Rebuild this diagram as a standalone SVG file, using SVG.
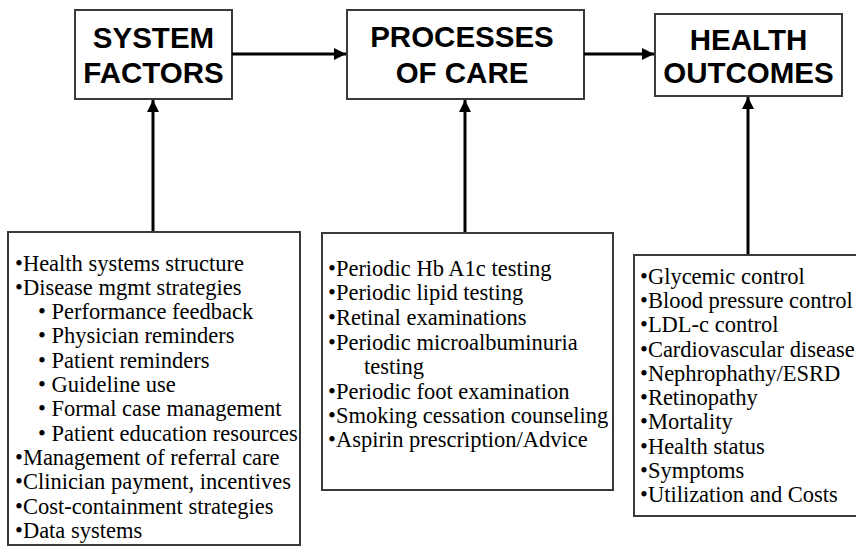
<svg xmlns="http://www.w3.org/2000/svg" width="856" height="547" viewBox="0 0 856 547">
<style>
.box{fill:#fff;stroke:#3a3a3a;stroke-width:2}
.title{font-family:"Liberation Sans",Arial,sans-serif;font-weight:bold;font-size:29.5px;fill:#000;text-anchor:middle}
.item{font-family:"Liberation Serif","Times New Roman",serif;font-size:22.5px;fill:#000}
.conn{stroke:#000;stroke-width:3;fill:none}
</style>
<defs>
<marker id="ah" viewBox="0 0 10 10" refX="10" refY="5" markerWidth="4" markerHeight="4" orient="auto" markerUnits="strokeWidth">
<path d="M0,0 L10,5 L0,10 z" fill="#000"/>
</marker>
</defs>
<rect width="856" height="547" fill="#fff"/>
<g id="system-factors">
<rect class="box" x="75" y="10" width="157" height="89"/>
<text class="title" x="153.5" y="48">SYSTEM</text>
<text class="title" x="153.5" y="83">FACTORS</text>
</g>
<g id="processes-of-care">
<rect class="box" x="347" y="10" width="237" height="89"/>
<text class="title" x="462" y="47">PROCESSES</text>
<text class="title" x="462" y="83">OF CARE</text>
</g>
<g id="health-outcomes">
<rect class="box" x="655" y="14" width="187" height="82"/>
<text class="title" x="748.5" y="50">HEALTH</text>
<text class="title" x="748.5" y="83">OUTCOMES</text>
</g>
<g id="system-factors-list">
<rect class="box" x="8" y="232" width="292" height="313"/>
<text class="item" x="15" y="271">•Health systems structure</text>
<text class="item" x="15" y="295">•Disease mgmt strategies</text>
<text class="item" x="38" y="319">• Performance feedback</text>
<text class="item" x="38" y="343">• Physician reminders</text>
<text class="item" x="38" y="368">• Patient reminders</text>
<text class="item" x="38" y="392">• Guideline use</text>
<text class="item" x="38" y="416">• Formal case management</text>
<text class="item" x="38" y="441">• Patient education resources</text>
<text class="item" x="15" y="465">•Management of referral care</text>
<text class="item" x="15" y="489">•Clinician payment, incentives</text>
<text class="item" x="15" y="514">•Cost-containment strategies</text>
<text class="item" x="15" y="538">•Data systems</text>
</g>
<g id="processes-list">
<rect class="box" x="322" y="233" width="291" height="257"/>
<text class="item" x="328" y="276">•Periodic Hb A1c testing</text>
<text class="item" x="328" y="300">•Periodic lipid testing</text>
<text class="item" x="328" y="325">•Retinal examinations</text>
<text class="item" x="328" y="350">•Periodic microalbuminuria</text>
<text class="item" x="364" y="374">testing</text>
<text class="item" x="328" y="399">•Periodic foot examination</text>
<text class="item" x="328" y="423">•Smoking cessation counseling</text>
<text class="item" x="328" y="447">•Aspirin prescription/Advice</text>
</g>
<g id="outcomes-list">
<rect class="box" x="634" y="255" width="240" height="261"/>
<text class="item" x="640" y="284">•Glycemic control</text>
<text class="item" x="640" y="308">•Blood pressure control</text>
<text class="item" x="640" y="332">•LDL-c control</text>
<text class="item" x="640" y="357">•Cardiovascular disease</text>
<text class="item" x="640" y="381">•Nephrophathy/ESRD</text>
<text class="item" x="640" y="405">•Retinopathy</text>
<text class="item" x="640" y="429">•Mortality</text>
<text class="item" x="640" y="454">•Health status</text>
<text class="item" x="640" y="478">•Symptoms</text>
<text class="item" x="640" y="502">•Utilization and Costs</text>
</g>
<g id="connectors">
<line class="conn" x1="232" y1="54" x2="346" y2="54" marker-end="url(#ah)"/>
<line class="conn" x1="584" y1="54" x2="654" y2="54" marker-end="url(#ah)"/>
<line class="conn" x1="153" y1="231" x2="153" y2="100" marker-end="url(#ah)"/>
<line class="conn" x1="465" y1="232" x2="465" y2="100" marker-end="url(#ah)"/>
<line class="conn" x1="748" y1="254" x2="748" y2="97" marker-end="url(#ah)"/>
</g>
</svg>
